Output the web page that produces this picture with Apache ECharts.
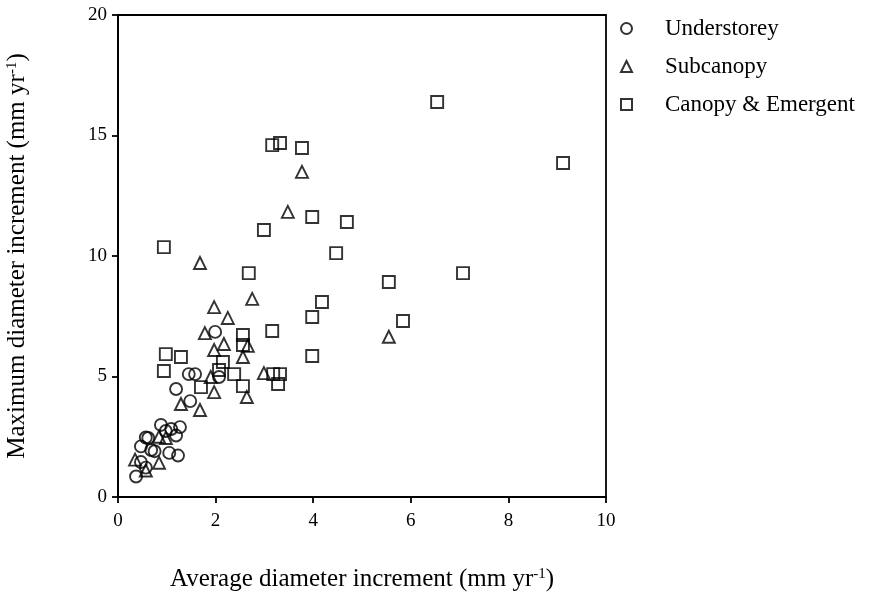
<!DOCTYPE html>
<html><head><meta charset="utf-8">
<script src="https://cdn.jsdelivr.net/npm/echarts@6/dist/echarts.min.js"></script>
<style>html,body{margin:0;padding:0;background:#fff}#c{width:869px;height:598px}</style>
</head><body><div id="c"></div>
<script>
const seriesNames = ['Understorey', 'Subcanopy', 'Canopy & Emergent'];
const understorey = [
  [1.99,6.85],[1.45,5.10],[1.58,5.10],[2.07,4.98],[1.19,4.48],[1.48,3.98],
  [0.88,2.99],[1.27,2.90],[1.09,2.82],[0.98,2.74],[1.19,2.55],[0.57,2.47],
  [0.47,2.10],[0.68,1.95],[0.75,1.90],[1.05,1.83],[1.23,1.72],[0.47,1.45],
  [0.57,1.22],[0.37,0.85],[0.62,2.45]
];
const subcanopy = [
  [3.77,13.49],[3.48,11.83],[1.68,9.71],[2.75,8.22],[1.97,7.88],[2.25,7.43],
  [1.78,6.80],[2.17,6.35],[2.66,6.27],[1.97,6.10],[2.56,5.81],[5.55,6.65],
  [2.99,5.14],[1.90,4.98],[1.97,4.35],[2.64,4.15],[1.29,3.86],[1.68,3.61],
  [0.84,2.50],[0.98,2.45],[0.35,1.55],[0.84,1.42],[0.57,1.10]
];
const canopy = [
  [6.54,16.39],[9.12,13.86],[3.16,14.60],[3.32,14.69],[3.77,14.48],[3.98,11.62],
  [4.69,11.41],[2.99,11.08],[0.94,10.37],[4.47,10.12],[2.68,9.29],[7.07,9.29],
  [5.55,8.92],[4.18,8.09],[3.98,7.47],[5.84,7.30],[3.16,6.89],[2.56,6.72],
  [2.56,6.31],[0.98,5.93],[1.29,5.81],[3.98,5.85],[2.15,5.60],[0.94,5.23],
  [2.07,5.27],[2.38,5.10],[3.18,5.10],[3.32,5.10],[3.28,4.69],[1.70,4.56],
  [2.56,4.60]
];
const xTicks = [0, 2, 4, 6, 8, 10];
const yTicks = [0, 5, 10, 15, 20];

const FONT = 'Liberation Serif';
const chart = echarts.init(document.getElementById('c'), null, {renderer: 'canvas'});
const markerStyle = {color: 'rgba(0,0,0,0)', borderColor: '#000', borderWidth: 1.9};
function mk(name, data, sym, size) {
  return {name, type: 'scatter', data, symbol: sym, symbolSize: size,
    itemStyle: markerStyle, emphasis: {disabled: true}, animation: false};
}
const axisCommon = {
  axisLine: {show: true, lineStyle: {color: '#000', width: 1.8}},
  axisTick: {show: true, inside: false, length: 6, lineStyle: {color: '#000', width: 1.8}},
  splitLine: {show: false},
  axisLabel: {color: '#000', fontFamily: FONT, fontSize: 19},
  nameLocation: 'middle',
  nameTextStyle: {color: '#000', fontFamily: FONT, fontSize: 25,
    rich: {n: {fontFamily: FONT, fontSize: 25, color: '#000'},
           sup: {fontFamily: FONT, fontSize: 15, color: '#000', verticalAlign: 'top', padding: [0,0,10,0]}}}
};
chart.setOption({
  animation: false,
  backgroundColor: '#fff',
  grid: {left: 118, right: 263, top: 15, bottom: 101, show: true, borderColor: '#000', borderWidth: 1.8,
         containLabel: false, outerBoundsMode: 'none'},
  legend: {
    orient: 'vertical', left: 615, top: 12, itemGap: 15,
    itemWidth: 11, itemHeight: 11,
    data: seriesNames,
    textStyle: {fontFamily: FONT, fontSize: 23, color: '#000', padding: [0,0,0,28]},
    itemStyle: {color: 'rgba(0,0,0,0)', borderColor: '#000', borderWidth: 2}
  },
  xAxis: Object.assign({}, axisCommon, {
    type: 'value', min: xTicks[0], max: xTicks[xTicks.length-1], interval: 2,
    name: '{n|Average diameter increment (mm yr}{sup|-1}{n|)}', nameGap: 70,
    axisLabel: Object.assign({}, axisCommon.axisLabel, {margin: 15})
  }),
  yAxis: Object.assign({}, axisCommon, {
    type: 'value', min: yTicks[0], max: yTicks[yTicks.length-1], interval: 5,
    name: '{n|Maximum diameter increment (mm yr}{sup|-1}{n|)}', nameGap: 88,
    axisLabel: Object.assign({}, axisCommon.axisLabel, {margin: 11})
  }),
  series: [
    mk(seriesNames[0], understorey, 'circle', 12),
    mk(seriesNames[1], subcanopy, 'triangle', 12),
    mk(seriesNames[2], canopy, 'rect', 12)
  ]
});
</script></body></html>
